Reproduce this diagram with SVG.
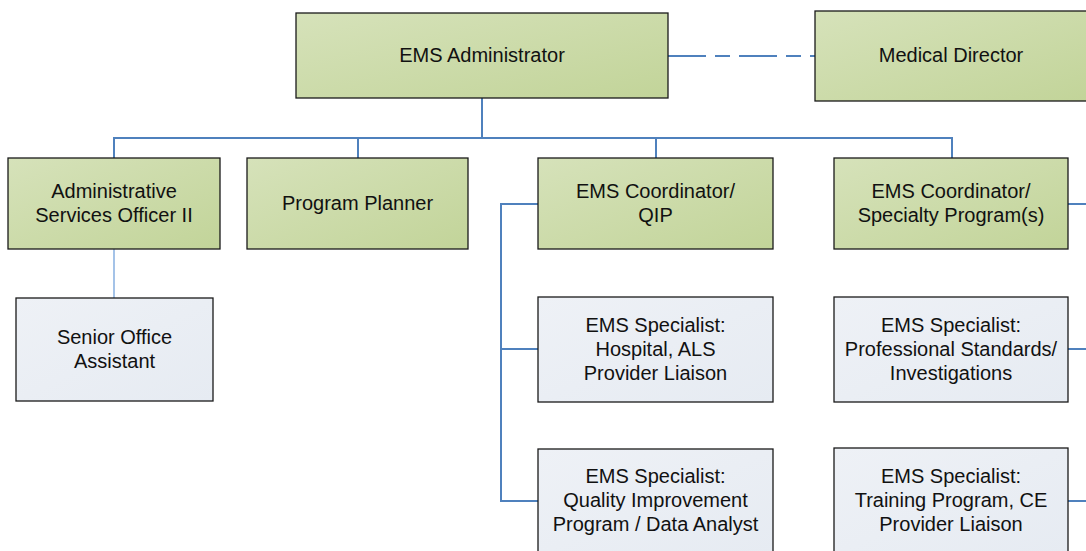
<svg xmlns="http://www.w3.org/2000/svg" width="1086" height="551" viewBox="0 0 1086 551">
<defs>
<linearGradient id="green" x1="0" y1="0" x2="1" y2="1">
<stop offset="0" stop-color="#D6E2BA"/>
<stop offset="1" stop-color="#C2D499"/>
</linearGradient>
<linearGradient id="blue" x1="0" y1="0" x2="1" y2="1">
<stop offset="0" stop-color="#EEF1F6"/>
<stop offset="1" stop-color="#E6EBF2"/>
</linearGradient>
<style>
.g{fill:url(#green);stroke:#1a1a1a;stroke-width:1.3}
.b{fill:url(#blue);stroke:#1a1a1a;stroke-width:1.3}
.sh{fill:#d0d0d0}
text{font-family:"Liberation Sans",Arial,sans-serif;font-size:20px;fill:#111;text-anchor:middle}
.c{fill:none;stroke:#4F81BD;stroke-width:2}
.cl{fill:none;stroke:#8EB4E3;stroke-width:1.6}
.d{fill:none;stroke:#4F81BD;stroke-width:2;stroke-dasharray:38 9 15 9}
</style>
</defs>
<g id="connectors">
<path class="d" d="M668,56 H815"/>
<path class="c" d="M482,98 V138 M114,158 V138 H952 V158 M358,138 V158 M656,138 V158"/>
<path class="cl" d="M114,249 V298"/>
<path class="c" d="M538,204 H501 V501 H538 M501,349 H538"/>
<path class="c" d="M1068,204 H1089 V501 H1068 M1089,349 H1068"/>
</g>
<g id="ems-administrator">
<rect class="g" x="296" y="13" width="372" height="85"/>
<text x="482" y="62">EMS Administrator</text>
</g>
<g id="medical-director">
<rect class="g" x="815" y="11" width="273" height="90"/>
<text x="951" y="62">Medical Director</text>
</g>
<g id="admin-services-officer">
<rect class="g" x="8" y="158" width="212" height="91"/>
<text x="114" y="198">Administrative</text>
<text x="114" y="222">Services Officer II</text>
</g>
<g id="program-planner">
<rect class="g" x="247" y="158" width="221" height="91"/>
<text x="357.5" y="210">Program Planner</text>
</g>
<g id="ems-coordinator-qip">
<rect class="g" x="538" y="158" width="235" height="91"/>
<text x="655.5" y="198">EMS Coordinator/</text>
<text x="655.5" y="222">QIP</text>
</g>
<g id="ems-coordinator-specialty">
<rect class="g" x="834" y="158" width="234" height="91"/>
<text x="951" y="198">EMS Coordinator/</text>
<text x="951" y="222">Specialty Program(s)</text>
</g>
<g id="senior-office-assistant">
<rect class="b" x="16" y="298" width="197" height="103"/>
<text x="114.5" y="343.5">Senior Office</text>
<text x="114.5" y="367.5">Assistant</text>
</g>
<g id="specialist-hospital">
<rect class="b" x="538" y="297" width="235" height="105"/>
<text x="655.5" y="332">EMS Specialist:</text>
<text x="655.5" y="356">Hospital, ALS</text>
<text x="655.5" y="380">Provider Liaison</text>
</g>
<g id="specialist-qi">
<rect class="b" x="538" y="449" width="235" height="105"/>
<text x="655.5" y="483">EMS Specialist:</text>
<text x="655.5" y="507">Quality Improvement</text>
<text x="655.5" y="531">Program / Data Analyst</text>
</g>
<g id="specialist-standards">
<rect class="b" x="834" y="297" width="234" height="105"/>
<text x="951" y="332">EMS Specialist:</text>
<text x="951" y="356">Professional Standards/</text>
<text x="951" y="380">Investigations</text>
</g>
<g id="specialist-training">
<rect class="b" x="834" y="448" width="234" height="106"/>
<text x="951" y="483">EMS Specialist:</text>
<text x="951" y="507">Training Program, CE</text>
<text x="951" y="531">Provider Liaison</text>
</g>
</svg>
